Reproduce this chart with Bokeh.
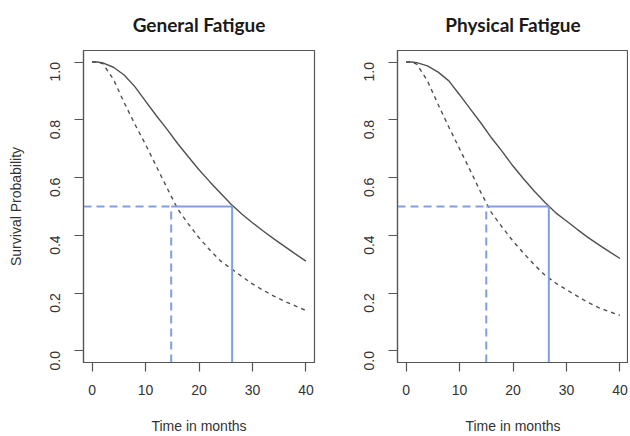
import math
from bokeh.plotting import figure
from bokeh.layouts import row
from bokeh.models import Range1d, FixedTicker, PrintfTickFormatter, Title
from bokeh.embed import file_html
from bokeh.resources import INLINE

# ---- data ----
months = [0, 1, 2, 4, 6, 8, 10, 12, 14, 16, 18, 20, 22, 24, 26, 28, 30, 32, 34, 36, 38, 40]

gf_solid = [1.0, 1.0, 0.997, 0.982, 0.955, 0.915, 0.865, 0.815, 0.768, 0.718, 0.672,
            0.627, 0.586, 0.547, 0.508, 0.474, 0.444, 0.415, 0.388, 0.362, 0.336, 0.311]
gf_dashed = [1.0, 1.0, 0.995, 0.94, 0.86, 0.785, 0.715, 0.64, 0.565, 0.492, 0.44,
             0.392, 0.35, 0.312, 0.285, 0.258, 0.232, 0.21, 0.19, 0.172, 0.156, 0.14]
pf_solid = [1.0, 1.0, 0.998, 0.987, 0.965, 0.935, 0.887, 0.838, 0.789, 0.737, 0.69,
            0.64, 0.595, 0.553, 0.514, 0.478, 0.45, 0.421, 0.393, 0.368, 0.344, 0.32]
pf_dashed = [1.0, 1.0, 0.993, 0.935, 0.853, 0.775, 0.70, 0.625, 0.548, 0.478, 0.428,
             0.38, 0.338, 0.298, 0.262, 0.235, 0.212, 0.19, 0.168, 0.15, 0.136, 0.123]

gf_medians = [14.8, 26.2]   # dashed, solid
pf_medians = [15.0, 26.7]
half = 0.5

titles = ["General Fatigue", "Physical Fatigue"]
x_ticks = [0, 10, 20, 30, 40]
y_ticks = [0.0, 0.2, 0.4, 0.6, 0.8, 1.0]
x_label = "Time in months"
y_label = "Survival Probability"

# ---- styling ----
BOX = "#555555"
CURVE = "#505050"
BLUE = "#7f9fe0"
TXT = "#333333"
FONT = "Liberation Sans"

X0, X1 = -1.6, 41.6
Y0, Y1 = -0.04, 1.04


def panel(title, solid, dashed, medians, width, mb_left, mb_right, show_ylabel):
    p = figure(width=width, height=436, output_backend="svg", toolbar_location=None,
               x_range=Range1d(X0, X1), y_range=Range1d(Y0, Y1),
               min_border_left=mb_left, min_border_right=mb_right,
               min_border_top=50, min_border_bottom=74)
    p.grid.visible = False
    p.outline_line_color = BOX
    p.outline_line_width = 1.2
    p.background_fill_color = "white"
    p.border_fill_color = "white"

    # real title, lifted by a thin spacer placed between it and the frame
    p.title.text = title
    p.title.align = "center"
    p.title.text_font = "Lato"
    p.title.text_font_style = "bold"
    p.title.text_font_size = "19px"
    p.title.text_color = "#1a1a1a"
    p.title.standoff = 8
    p.add_layout(Title(text=" ", text_font_size="1px", standoff=8), "above")

    for ax in (p.xaxis[0], p.yaxis[0]):
        ax.axis_line_color = BOX
        ax.axis_line_width = 1.2
        ax.major_tick_line_color = BOX
        ax.major_tick_line_width = 1.2
        ax.major_tick_out = 9
        ax.major_tick_in = 0
        ax.minor_tick_line_color = None
        ax.major_label_text_font = FONT
        ax.major_label_text_font_size = "14px"
        ax.major_label_text_color = TXT
        ax.axis_label_text_font = FONT
        ax.axis_label_text_font_size = "14px"
        ax.axis_label_text_color = TXT
        ax.axis_label_text_font_style = "normal"

    p.xaxis.ticker = FixedTicker(ticks=x_ticks)
    p.xaxis.major_label_standoff = 13
    p.xaxis.axis_label = x_label
    p.xaxis.axis_label_standoff = 20

    p.yaxis.ticker = FixedTicker(ticks=y_ticks)
    p.yaxis.formatter = PrintfTickFormatter(format="%.1f")
    p.yaxis.major_label_orientation = math.pi / 2
    p.yaxis.major_label_standoff = 19
    if show_ylabel:
        p.yaxis.axis_label = y_label
        p.yaxis.axis_label_standoff = 19

    # survival curves
    p.line(months, solid, line_color=CURVE, line_width=1.4)
    p.line(months, dashed, line_color=CURVE, line_width=1.4, line_dash="4 4")

    # median reference lines
    m_dash, m_solid = medians
    p.segment(x0=[X0], y0=[half], x1=[m_dash], y1=[half],
              line_color=BLUE, line_width=2, line_dash="8 5")
    p.segment(x0=[m_dash], y0=[Y0], x1=[m_dash], y1=[half],
              line_color=BLUE, line_width=2, line_dash="8 5")
    p.segment(x0=[m_dash], y0=[half], x1=[m_solid], y1=[half],
              line_color=BLUE, line_width=2)
    p.segment(x0=[m_solid], y0=[Y0], x1=[m_solid], y1=[half],
              line_color=BLUE, line_width=2)
    return p


p1 = panel(titles[0], gf_solid, gf_dashed, gf_medians, 320, 83, 6, True)
p2 = panel(titles[1], pf_solid, pf_dashed, pf_medians, 308, 77, 0, False)

layout = row(p1, p2)
open("out.html", "w").write(file_html(layout, INLINE))
